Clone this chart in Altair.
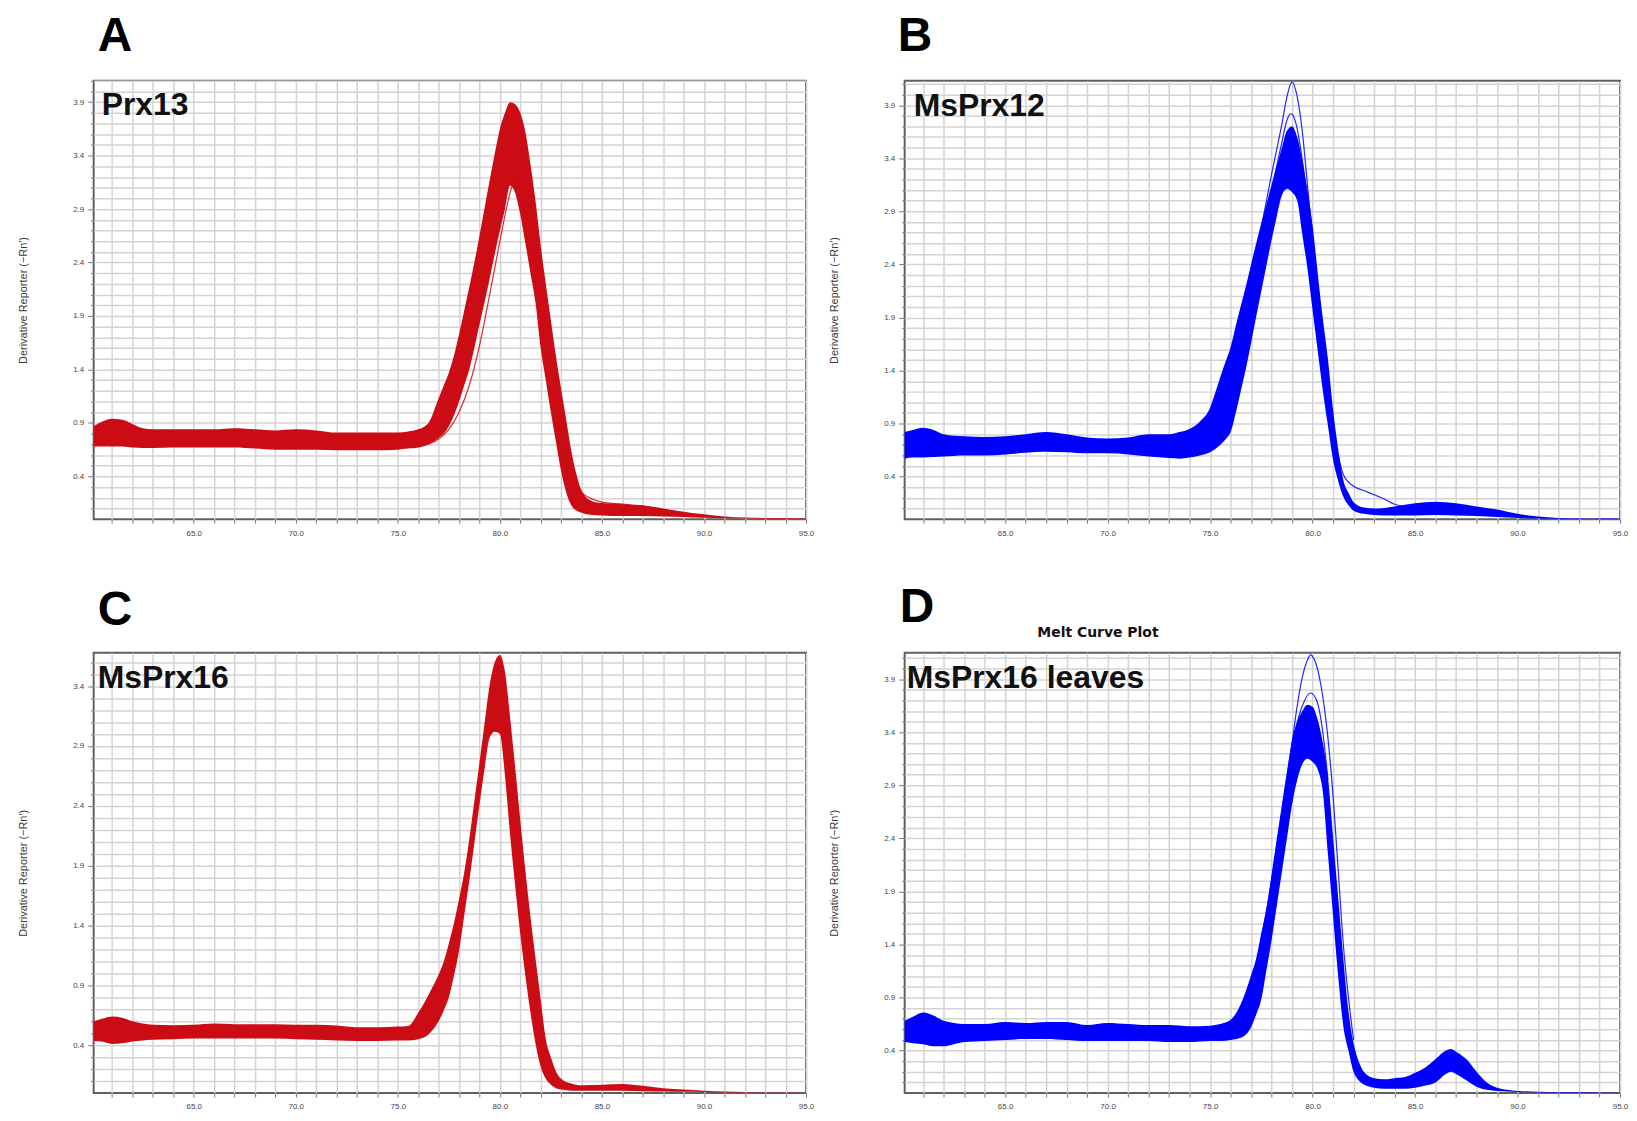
import altair as alt
import pandas as pd

# ---------------- data ----------------
X_DOMAIN = [60.1, 95.0]
X_TICKS = list(range(61, 96))
Y_TITLE = "Derivative Reporter (\u2212Rn\u2032)"
RED = "#cc0c14"
BLUE = "#0000ff"

# band rows: (temperature, lower envelope, upper envelope)
PRX13_BAND = [
    (60.1, 0.68, 0.87), (60.5, 0.68, 0.91), (61, 0.68, 0.94), (61.5, 0.68, 0.93),
    (62, 0.67, 0.89), (62.5, 0.665, 0.85), (63, 0.665, 0.84), (64, 0.67, 0.84),
    (65, 0.67, 0.84), (66, 0.67, 0.84), (67, 0.67, 0.85), (68, 0.66, 0.84),
    (69, 0.65, 0.83), (70, 0.65, 0.84), (71, 0.65, 0.83), (72, 0.645, 0.81),
    (73, 0.645, 0.81), (74, 0.645, 0.81), (75, 0.65, 0.81), (75.5, 0.66, 0.82),
    (76, 0.67, 0.84), (76.5, 0.70, 0.90), (77, 0.76, 1.13), (77.25, 0.80, 1.25),
    (77.5, 0.87, 1.37), (77.75, 0.97, 1.53), (78, 1.10, 1.73), (78.25, 1.25, 1.95),
    (78.5, 1.40, 2.17), (78.75, 1.60, 2.40), (79, 1.82, 2.65), (79.25, 2.03, 2.91),
    (79.5, 2.25, 3.17), (79.75, 2.48, 3.42), (80, 2.70, 3.65), (80.25, 2.90, 3.80),
    (80.5, 3.12, 3.90), (80.75, 3.05, 3.88), (81, 2.85, 3.80), (81.25, 2.58, 3.62),
    (81.5, 2.30, 3.32), (81.75, 2.02, 2.97), (82, 1.60, 2.56), (82.25, 1.30, 2.20),
    (82.5, 1.00, 1.86), (82.75, 0.72, 1.52), (83, 0.45, 1.22), (83.25, 0.25, 0.93),
    (83.5, 0.13, 0.64), (83.75, 0.08, 0.42), (84, 0.06, 0.27), (84.5, 0.04, 0.17),
    (85, 0.035, 0.15), (86, 0.03, 0.14), (87, 0.03, 0.13), (88, 0.025, 0.10),
    (89, 0.02, 0.07), (90, 0.012, 0.045), (91, 0.008, 0.025), (92, 0.005, 0.015),
    (93, 0.003, 0.01), (94, 0.002, 0.008), (95, 0.002, 0.005),
]
PRX13_LINES = {
    "late": [(76, 0.68), (76.5, 0.70), (77, 0.75), (77.5, 0.84), (78, 1.0), (78.5, 1.25),
             (79, 1.62), (79.5, 2.1), (80, 2.6), (80.5, 3.05), (80.8, 3.2), (81.1, 3.05),
             (81.5, 2.55), (82, 1.85), (82.5, 1.2), (83, 0.7), (83.5, 0.4), (84, 0.25),
             (84.5, 0.19), (85, 0.16), (86, 0.14), (87, 0.12), (88, 0.09), (89, 0.06), (90, 0.035)],
}

MSPRX12_BAND = [
    (60.1, 0.57, 0.82), (60.5, 0.58, 0.84), (61, 0.58, 0.86), (61.5, 0.585, 0.84),
    (62, 0.59, 0.80), (63, 0.60, 0.78), (64, 0.60, 0.775), (65, 0.61, 0.78),
    (66, 0.625, 0.80), (67, 0.635, 0.82), (68, 0.63, 0.80), (69, 0.62, 0.77),
    (70, 0.62, 0.76), (71, 0.61, 0.77), (72, 0.59, 0.80), (73, 0.575, 0.80),
    (73.5, 0.57, 0.82), (74, 0.58, 0.85), (74.5, 0.60, 0.92), (75, 0.63, 1.05),
    (75.25, 0.66, 1.19), (75.5, 0.70, 1.34), (75.75, 0.75, 1.48), (76, 0.82, 1.62),
    (76.25, 1.0, 1.82), (76.5, 1.21, 2.01), (76.75, 1.42, 2.20), (77, 1.66, 2.40),
    (77.25, 1.91, 2.60), (77.5, 2.15, 2.79), (77.75, 2.39, 2.97), (78, 2.63, 3.15),
    (78.25, 2.85, 3.33), (78.5, 3.05, 3.50), (78.75, 3.11, 3.66), (79, 3.08, 3.70),
    (79.25, 3.00, 3.60), (79.5, 2.68, 3.38), (79.75, 2.36, 3.10), (80, 1.97, 2.77),
    (80.25, 1.59, 2.32), (80.5, 1.21, 1.89), (80.75, 0.88, 1.51), (81, 0.56, 1.03),
    (81.25, 0.36, 0.66), (81.5, 0.21, 0.37), (81.75, 0.13, 0.25), (82, 0.08, 0.16),
    (82.5, 0.05, 0.11), (83, 0.04, 0.10), (84, 0.035, 0.12), (85, 0.035, 0.15),
    (86, 0.04, 0.165), (87, 0.035, 0.15), (88, 0.03, 0.12), (89, 0.02, 0.09),
    (90, 0.01, 0.05), (91, 0.006, 0.025), (92, 0.004, 0.012), (93, 0.003, 0.008),
    (94, 0.002, 0.005), (95, 0.002, 0.004),
]
MSPRX12_LINES = {
    "spike": [(77.5, 2.75), (78, 3.25), (78.5, 3.72), (78.75, 3.98), (79.0, 4.12),
              (79.25, 3.98), (79.5, 3.65), (79.75, 3.15), (80, 2.62), (80.25, 2.1),
              (80.5, 1.6), (80.75, 1.15), (81, 0.75), (81.25, 0.45), (81.5, 0.28), (82, 0.14)],
    "high": [(78, 3.1), (78.5, 3.55), (78.75, 3.76), (78.95, 3.82), (79.2, 3.72),
             (79.5, 3.38), (79.75, 3.0), (80, 2.6)],
    "tail": [(81.25, 0.6), (81.5, 0.42), (82, 0.31), (82.5, 0.27), (83, 0.23),
             (83.5, 0.19), (84, 0.14), (84.5, 0.12), (85, 0.12)],
}

MSPRX16_BAND = [
    (60.1, 0.435, 0.60), (60.5, 0.43, 0.62), (61, 0.41, 0.64), (61.5, 0.415, 0.63),
    (62, 0.43, 0.60), (62.5, 0.44, 0.58), (63, 0.445, 0.57), (64, 0.45, 0.567),
    (65, 0.455, 0.57), (66, 0.455, 0.58), (67, 0.455, 0.575), (68, 0.455, 0.575),
    (69, 0.455, 0.575), (70, 0.45, 0.57), (71, 0.445, 0.57), (72, 0.44, 0.565),
    (73, 0.435, 0.55), (74, 0.435, 0.55), (75, 0.44, 0.555), (75.5, 0.44, 0.56),
    (76, 0.45, 0.67), (76.5, 0.49, 0.82), (77, 0.60, 0.99), (77.25, 0.69, 1.10),
    (77.5, 0.80, 1.25), (77.75, 0.98, 1.42), (78, 1.19, 1.62), (78.25, 1.48, 1.84),
    (78.5, 1.77, 2.12), (78.75, 2.09, 2.44), (79, 2.41, 2.76), (79.25, 2.71, 3.09),
    (79.5, 2.97, 3.41), (79.75, 3.02, 3.60), (80, 3.00, 3.66), (80.25, 2.65, 3.52),
    (80.5, 2.16, 3.14), (80.75, 1.73, 2.72), (81, 1.33, 2.28), (81.25, 0.98, 1.86),
    (81.5, 0.67, 1.47), (81.75, 0.41, 1.12), (82, 0.22, 0.78), (82.25, 0.12, 0.45),
    (82.5, 0.07, 0.30), (82.75, 0.04, 0.18), (83, 0.03, 0.12), (83.5, 0.02, 0.08),
    (84, 0.02, 0.065), (85, 0.02, 0.07), (86, 0.02, 0.075), (87, 0.015, 0.06),
    (88, 0.012, 0.04), (89, 0.01, 0.03), (90, 0.008, 0.02), (91, 0.005, 0.012),
    (92, 0.004, 0.008), (93, 0.003, 0.005), (94, 0.002, 0.004), (95, 0.002, 0.003),
]
MSPRX16_LINES = {}

LEAVES_BAND = [
    (60.1, 0.48, 0.68), (60.5, 0.47, 0.72), (61, 0.46, 0.76), (61.5, 0.44, 0.73),
    (62, 0.44, 0.68), (62.5, 0.46, 0.66), (63, 0.48, 0.65), (64, 0.49, 0.65),
    (65, 0.50, 0.67), (66, 0.51, 0.66), (67, 0.51, 0.67), (68, 0.50, 0.67),
    (69, 0.49, 0.64), (70, 0.49, 0.66), (71, 0.49, 0.65), (72, 0.49, 0.64),
    (73, 0.48, 0.64), (74, 0.48, 0.63), (75, 0.49, 0.635), (75.5, 0.49, 0.65),
    (76, 0.50, 0.69), (76.5, 0.52, 0.84), (77, 0.62, 1.11), (77.25, 0.74, 1.27),
    (77.5, 0.885, 1.51), (77.75, 1.16, 1.74), (78, 1.44, 2.06), (78.25, 1.76, 2.39),
    (78.5, 2.08, 2.71), (78.75, 2.40, 3.03), (79, 2.72, 3.32), (79.25, 2.95, 3.50),
    (79.5, 3.10, 3.60), (79.75, 3.15, 3.66), (80, 3.12, 3.64), (80.25, 3.05, 3.52),
    (80.5, 2.84, 3.30), (80.75, 2.25, 2.98), (81, 1.67, 2.41), (81.25, 1.10, 1.84),
    (81.5, 0.63, 1.27), (81.75, 0.40, 0.77), (82, 0.20, 0.47), (82.25, 0.12, 0.30),
    (82.5, 0.08, 0.20), (83, 0.05, 0.14), (83.5, 0.04, 0.13), (84, 0.04, 0.14),
    (84.5, 0.04, 0.15), (85, 0.05, 0.19), (85.5, 0.07, 0.24), (86, 0.10, 0.32),
    (86.5, 0.18, 0.40), (86.75, 0.20, 0.415), (87, 0.18, 0.39), (87.5, 0.12, 0.32),
    (88, 0.06, 0.20), (88.5, 0.03, 0.10), (89, 0.02, 0.05), (89.5, 0.015, 0.03),
    (90, 0.01, 0.02), (91, 0.006, 0.012), (92, 0.004, 0.01), (93, 0.003, 0.008),
    (94, 0.002, 0.006), (95, 0.002, 0.005),
]
LEAVES_LINES = {
    "spike": [(77.5, 1.45), (78, 2.0), (78.5, 2.65), (79.0, 3.3), (79.25, 3.65), (79.5, 3.92),
              (79.75, 4.08), (79.9, 4.13), (80.1, 4.08), (80.4, 3.85), (80.72, 3.4), (81.0, 2.8),
              (81.25, 2.1), (81.5, 1.4), (81.75, 0.9), (82, 0.5)],
    "high": [(79.0, 3.3), (79.5, 3.65), (79.9, 3.77), (80.2, 3.7), (80.5, 3.4), (80.75, 2.95)],
}

FONT = "Liberation Sans"


def make_panel(band, lines, color, y_max, width, height, label, label_xy, letter, letter_xy, extra=None):
    xscale = alt.Scale(domain=X_DOMAIN, nice=False, zero=False)
    yscale = alt.Scale(domain=[0, y_max], nice=False, zero=False)
    x_axis = alt.Axis(
        values=X_TICKS,
        labelExpr="datum.value % 5 == 0 ? format(datum.value, '.1f') : ''",
        title=None, grid=True, gridColor="#d3d3d3", gridWidth=1.5,
        domain=False, tickColor="#777", tickSize=4, labelFontSize=8, labelFont=FONT,
        labelColor="#444", labelPadding=6, labelOverlap=False, labelFlush=False,
    )
    y_vals = [round(0.1 * i, 1) for i in range(1, int(round(y_max * 10)) + 1)]
    y_axis = alt.Axis(
        values=y_vals,
        labelExpr="round(datum.value * 10) % 5 == 4 ? format(datum.value, '.1f') : ''",
        title=Y_TITLE, titleFont=FONT, titleFontSize=11, titleFontWeight="normal",
        titleColor="#3a3a3a", titlePadding=44,
        grid=True, gridColor="#d3d3d3", gridWidth=1.5, domain=False,
        tickColor="#777",
        tickSize={"condition": {"test": "round(datum.value * 10) % 5 == 4", "value": 6}, "value": 3},
        labelFontSize=8, labelFont=FONT, labelColor="#444", labelPadding=4,
        labelOverlap=False, labelFlush=False,
    )
    band_df = pd.DataFrame(band, columns=["t", "lo", "hi"])
    layers = [
        alt.Chart(band_df).mark_area(color=color, interpolate="monotone").encode(
            x=alt.X("t:Q", scale=xscale, axis=x_axis),
            y=alt.Y("lo:Q", scale=yscale, axis=y_axis),
            y2=alt.Y2("hi:Q"),
        )
    ]
    if lines:
        rows = [(name, t, v) for name, pts in lines.items() for t, v in pts]
        ldf = pd.DataFrame(rows, columns=["curve", "t", "v"])
        layers.append(
            alt.Chart(ldf).mark_line(color=color, strokeWidth=1.2, opacity=0.85, interpolate="monotone").encode(
                x=alt.X("t:Q", scale=xscale, axis=x_axis),
                y=alt.Y("v:Q", scale=yscale, axis=y_axis),
                detail="curve:N",
            )
        )
    one = pd.DataFrame({"k": [0]})
    layers.append(
        alt.Chart(one).mark_text(text=label, font=FONT, fontSize=32, fontWeight="bold",
                                 align="left", baseline="alphabetic", color="#111").encode(
            x=alt.value(label_xy[0]), y=alt.value(label_xy[1]))
    )
    layers.append(
        alt.Chart(one).mark_text(text=letter, font=FONT, fontSize=48, fontWeight="bold",
                                 align="left", baseline="alphabetic", color="#000").encode(
            x=alt.value(letter_xy[0]), y=alt.value(letter_xy[1]))
    )
    if extra:
        layers.append(
            alt.Chart(one).mark_text(text=extra[0], font="DejaVu Sans", fontSize=14, fontWeight="bold",
                                     align="center", baseline="alphabetic", color="#111").encode(
                x=alt.value(extra[1]), y=alt.value(extra[2]))
        )
    return alt.layer(*layers).properties(width=width, height=height)


pa = make_panel(PRX13_BAND, PRX13_LINES, RED, 4.1, 715, 440, "Prx13", (8, 34), "A", (4, -30), None)
pb = make_panel(MSPRX12_BAND, MSPRX12_LINES, BLUE, 4.13, 718, 440, "MsPrx12", (9, 35), "B", (-7, -30), None)
pc = make_panel(MSPRX16_BAND, MSPRX16_LINES, RED, 3.68, 715, 442, "MsPrx16", (4, 35), "C", (4, -28), None)
pd_ = make_panel(LEAVES_BAND, LEAVES_LINES, BLUE, 4.15, 718, 442, "MsPrx16 leaves", (2, 35), "D", (-5, -31),
                 ("Melt Curve Plot", 194, -16))

chart = alt.concat(pa, pb, pc, pd_, columns=2, bounds="flush",
                   spacing={"row": 134, "column": 99}).properties(
    padding={"left": 8, "top": 2, "right": 0, "bottom": 0}
).configure_view(stroke="#5f5f5f", strokeWidth=2)

chart.save("out.html", embed_options={"renderer": "svg", "actions": False})
